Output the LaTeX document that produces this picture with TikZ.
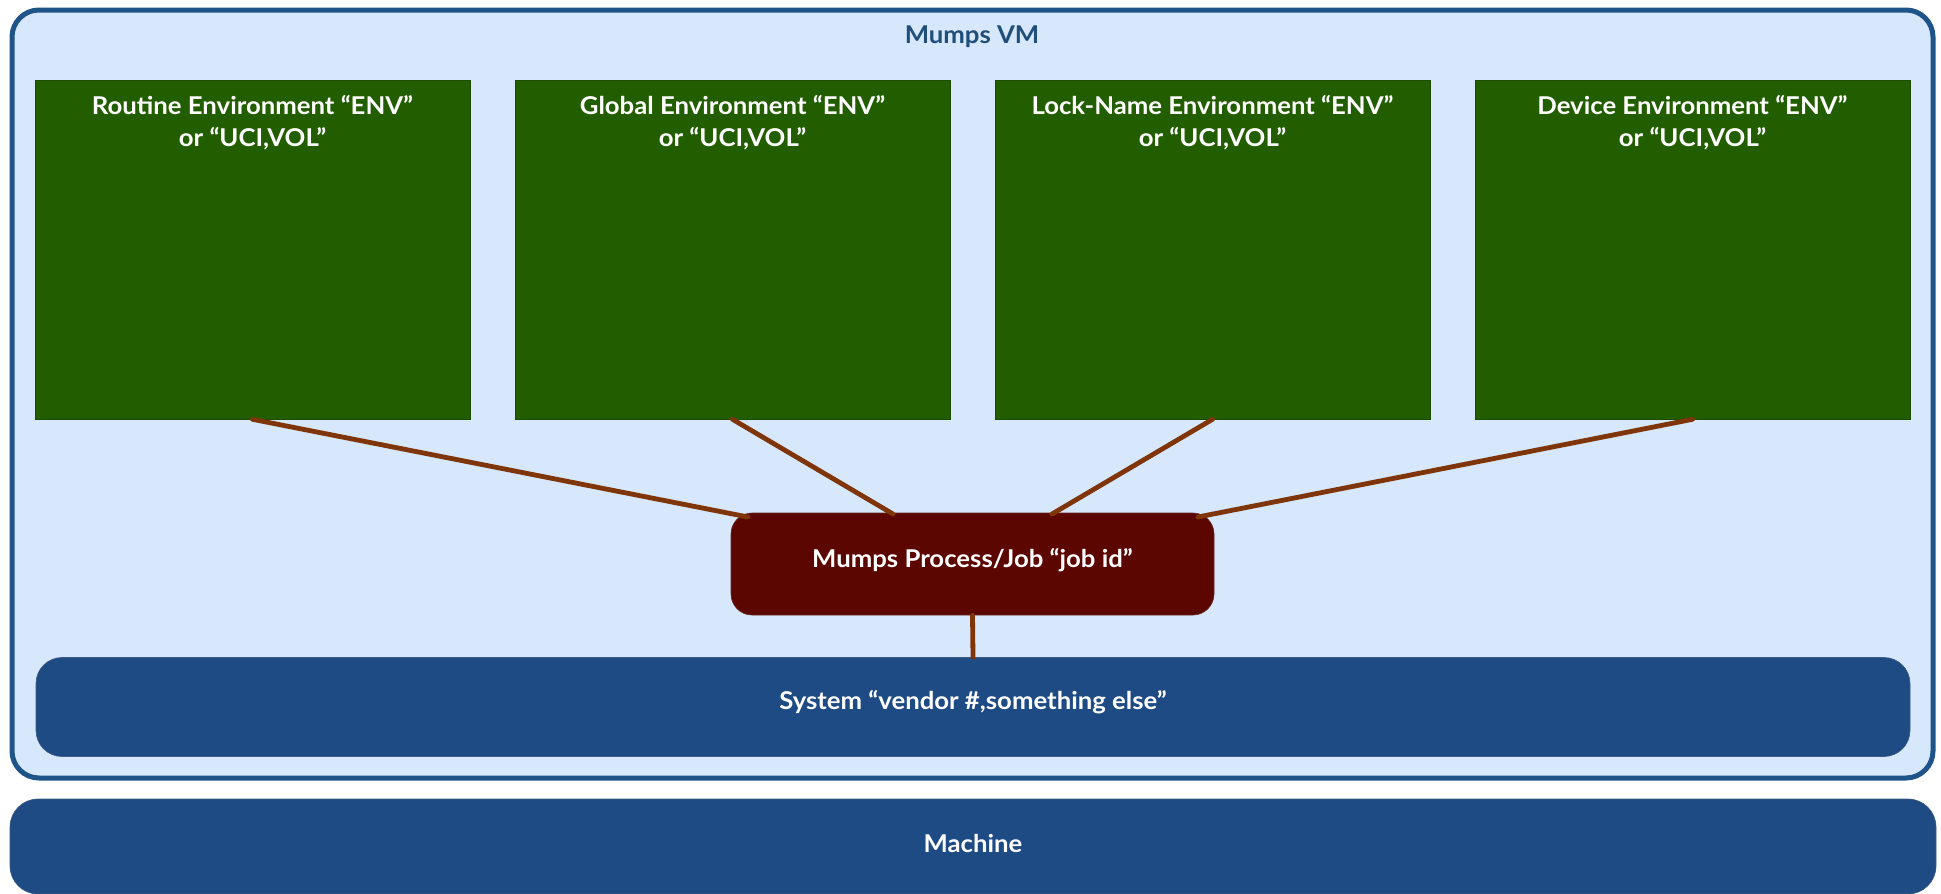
\documentclass[tikz,border=0pt]{standalone}
\usepackage{fontspec}
\setmainfont{Lato}[FakeStretch=1.05]
\definecolor{vmfill}{HTML}{D7E7FC}
\definecolor{vmdraw}{HTML}{1F5488}
\definecolor{envgreen}{HTML}{225E00}
\definecolor{procred}{HTML}{5C0600}
\definecolor{sysblue}{HTML}{1E4B84}
\definecolor{linkbrown}{HTML}{7F3508}
\definecolor{titleblue}{HTML}{1F4E79}
\tikzset{
  lbl/.style={font=\fontsize{24.5}{32.4}\selectfont\bfseries, inner sep=0pt},
  envbox/.style={fill=envgreen, draw=envgreen!80!black, line width=0.6pt, minimum width=435pt, minimum height=339pt, inner sep=0pt},
  envtext/.style={lbl, text=white, align=center, anchor=north},
  procbox/.style={fill=procred, draw=procred!70!gray, line width=0.6pt, rounded corners=21pt, minimum width=483pt, minimum height=102pt, inner sep=0pt},
  sysbox/.style={fill=sysblue, draw=sysblue!70!gray, line width=0.6pt, rounded corners=26pt, inner sep=0pt},
  whitetext/.style={lbl, text=white, anchor=base},
  link/.style={draw=linkbrown, line width=4.8pt, line cap=round}
}
\begin{document}
\begin{tikzpicture}[x=1pt,y=-1pt]
\useasboundingbox (0,0) rectangle (1941,894);
% VM container
\node[draw=vmdraw, fill=vmfill, line width=5pt, rounded corners=27pt, minimum width=1921pt, minimum height=768pt, inner sep=0pt] (vm) at (972.5,394) {};
\node[lbl, text=titleblue, anchor=base] (title) at (972,43) {Mumps VM};
% environments
\node[envbox] (env1) at (252.5,249.5) {};
\node[envbox] (env2) at (732.5,249.5) {};
\node[envbox] (env3) at (1212.5,249.5) {};
\node[envbox] (env4) at (1692.5,249.5) {};
\node[envtext] (t1) at ([yshift=-15pt]env1.north) {Routine Environment “ENV”\\or “UCI,VOL”};
\node[envtext] (t2) at ([yshift=-15pt]env2.north) {Global Environment “ENV”\\or “UCI,VOL”};
\node[envtext] (t3) at ([yshift=-15pt]env3.north) {Lock-Name Environment “ENV”\\or “UCI,VOL”};
\node[envtext] (t4) at ([yshift=-15pt]env4.north) {Device Environment “ENV”\\or “UCI,VOL”};
% system
\node[sysbox, minimum width=1874pt, minimum height=99pt] (sys) at (973,707) {};
\node[whitetext] (systext) at (973,709) {System “vendor \#,something else”};
% machine
\node[sysbox, rounded corners=28pt, minimum width=1926pt, minimum height=95pt] (mach) at (973,846.5) {};
\node[whitetext] (machtext) at (973,852.5) {Machine};
% process
\node[procbox] (proc) at (972.5,564) {};
\node[whitetext] (ptext) at (972.5,567.5) {Mumps Process/Job “job id”};
% links
\coordinate (p1) at (748,517);
\coordinate (p2) at (893,514);
\coordinate (p3) at (1052,514);
\coordinate (p4) at (1198,517);
\draw[link] (env1.south) -- (p1);
\draw[link] (env2.south) -- (p2);
\draw[link] (env3.south) -- (p3);
\draw[link] (env4.south) -- (p4);
\draw[link] (proc.south) -- (sys.north);
\end{tikzpicture}
\end{document}
